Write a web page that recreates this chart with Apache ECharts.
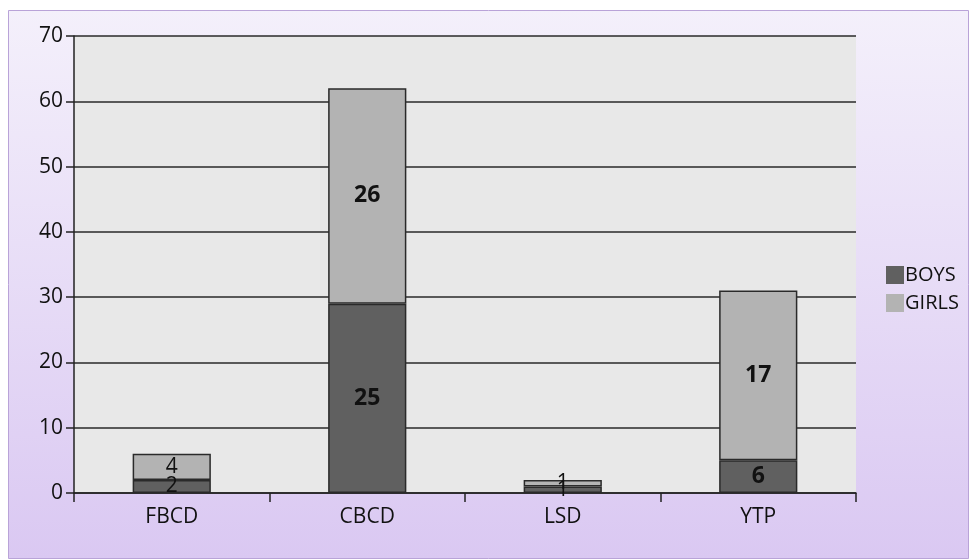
<!DOCTYPE html>
<html><head><meta charset="utf-8">
<script src="https://cdn.jsdelivr.net/npm/echarts@6/dist/echarts.min.js"></script>
<style>html,body{margin:0;padding:0;background:#fff}#c{width:970px;height:560px}</style>
</head><body><div id="c"></div>
<script>
const categories = ['FBCD', 'CBCD', 'LSD', 'YTP'];
const boys = [2, 29, 1, 5];
const girls = [4, 33, 1, 26];
const boysLabels = ['2', '25', '1', '6'];
const girlsLabels = ['4', '26', '1', '17'];
const yTicks = [0, 10, 20, 30, 40, 50, 60, 70];

const font = 'Open Sans';
function mk(vals, labels) {
  return vals.map((v, i) => ({
    value: v,
    label: { formatter: labels[i], fontWeight: v >= 5 ? 'bold' : 'normal', fontSize: v >= 5 ? 23 : 21 }
  }));
}
const chart = echarts.init(document.getElementById('c'), null, { renderer: 'canvas' });
chart.setOption({
  animation: false,
  backgroundColor: '#ffffff',
  graphic: [{
    type: 'rect', z: -10, silent: true,
    shape: { x: 8.5, y: 10.5, width: 960, height: 548 },
    style: {
      fill: new echarts.graphic.LinearGradient(0, 0, 0, 1, [
        { offset: 0, color: '#f4f0fb' },
        { offset: 1, color: '#dac8f2' }
      ]),
      stroke: '#b9a3d8', lineWidth: 1
    }
  }],
  legend: {
    orient: 'vertical', left: 881, top: 260, itemWidth: 18, itemHeight: 18, itemGap: 8,
    icon: 'rect',
    itemStyle: { borderWidth: 0 },
    textStyle: { fontFamily: font, fontSize: 20, color: '#111', padding: [0, 0, 0, -4] },
    data: ['BOYS', 'GIRLS']
  },
  grid: { left: 74, top: 36, right: 114, bottom: 67, show: true, backgroundColor: '#e8e8e8', borderWidth: 0 },
  xAxis: {
    type: 'category', data: categories,
    axisLine: { lineStyle: { color: '#222', width: 1.5 } },
    axisTick: { show: true, length: 9, alignWithLabel: false, lineStyle: { color: '#222', width: 1.5 } },
    axisLabel: { fontFamily: font, fontSize: 21, color: '#111', margin: 14 }
  },
  yAxis: {
    type: 'value', min: yTicks[0], max: yTicks[yTicks.length - 1], interval: 10,
    axisLine: { show: true, lineStyle: { color: '#222', width: 1.5 } },
    axisTick: { show: true, length: 8, lineStyle: { color: '#222', width: 1.5 } },
    axisLabel: { fontFamily: font, fontSize: 21, color: '#111', margin: 11 },
    splitLine: { lineStyle: { color: '#2a2a2a', width: 1.5 } }
  },
  series: [
    {
      name: 'BOYS', type: 'bar', stack: 't', barWidth: '40%',
      data: mk(boys, boysLabels),
      itemStyle: { color: '#606060', borderColor: '#2a2a2a', borderWidth: 1.5 },
      label: { show: true, position: 'inside', fontFamily: font, color: '#111' }
    },
    {
      name: 'GIRLS', type: 'bar', stack: 't', barWidth: '40%',
      data: mk(girls, girlsLabels),
      itemStyle: { color: '#b3b3b3', borderColor: '#2a2a2a', borderWidth: 1.5 },
      label: { show: true, position: 'inside', fontFamily: font, color: '#111' }
    }
  ]
});
</script></body></html>
